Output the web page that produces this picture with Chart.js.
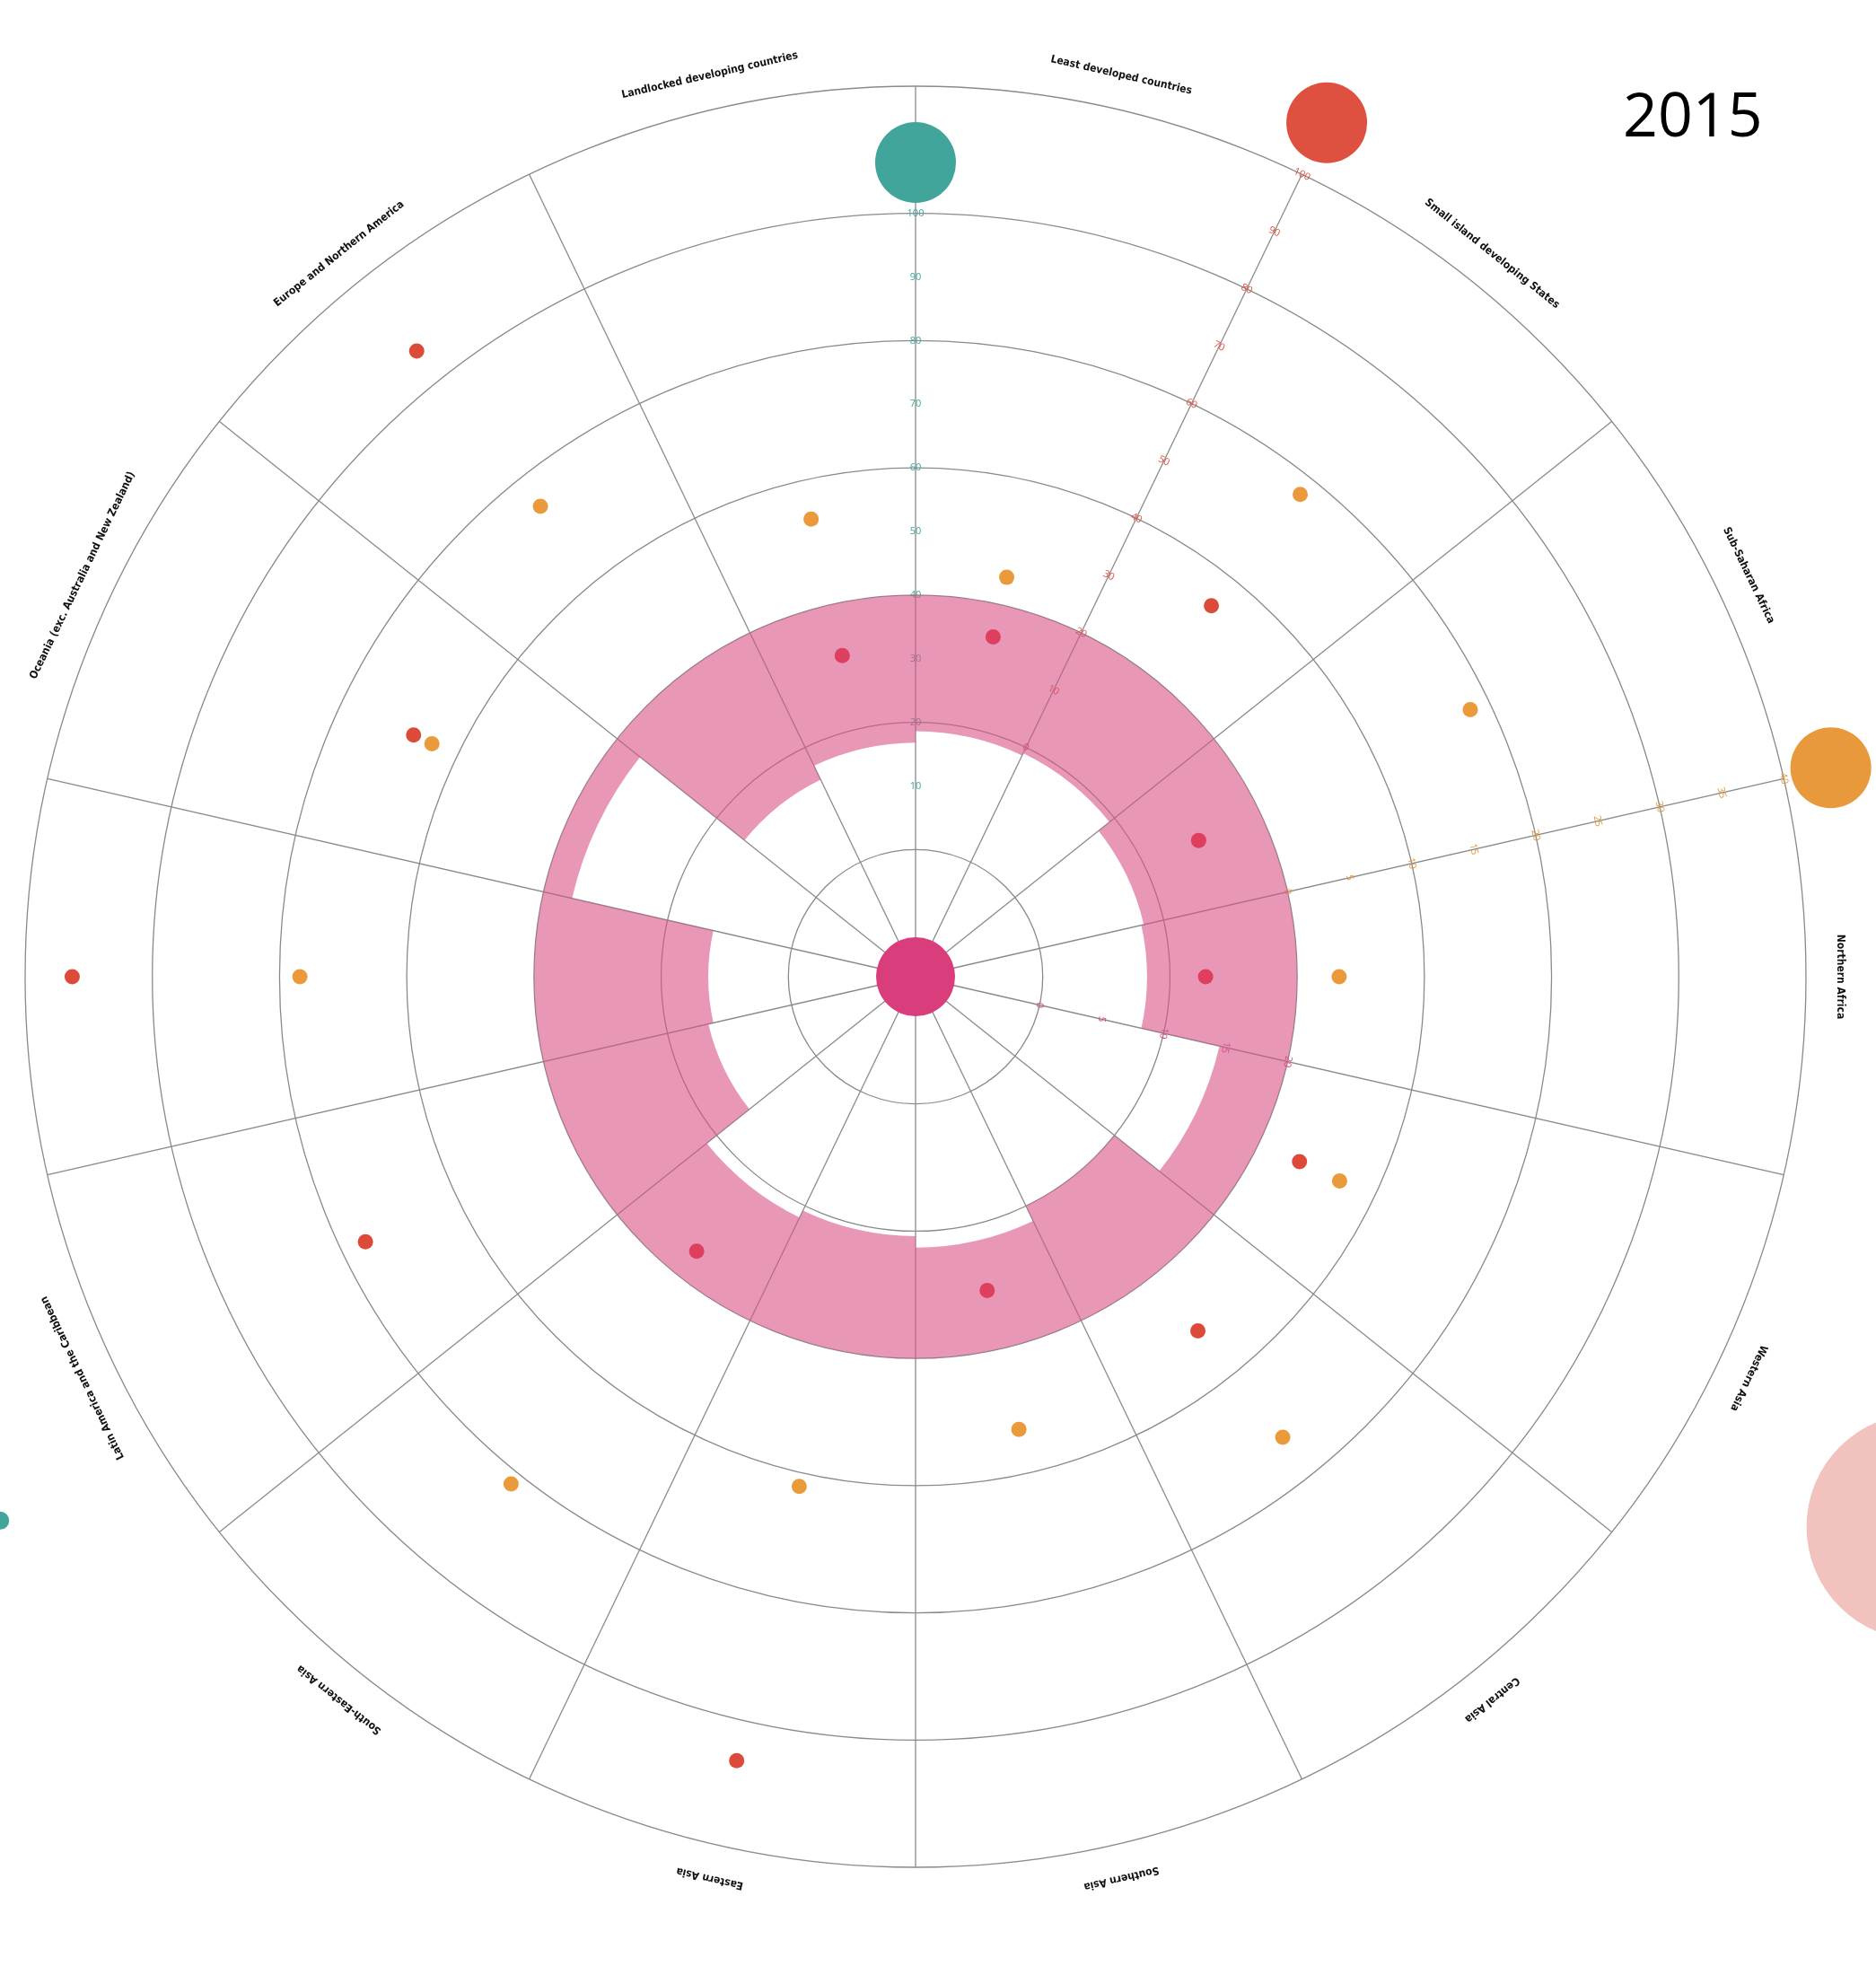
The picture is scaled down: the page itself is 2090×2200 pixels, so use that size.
<!DOCTYPE html>
<html lang="en">
<head>
    <meta charset="UTF-8">
    <title>2015</title>
    <script src="https://cdn.jsdelivr.net/npm/chart.js"></script>
    <style>
        html, body { margin: 0; padding: 0; background: #fff; }
        .chart-container { position: relative; width: 2090px; height: 2200px; }
    </style>
</head>
<body>
    <div class="chart-container">
        <canvas id="grafico"></canvas>
    </div>

    <script>
        // sectors, clockwise from the top spoke
        const regions = [
            'Least developed countries',
            'Small island developing States',
            'Sub-Saharan Africa',
            'Northern Africa',
            'Western Asia',
            'Central Asia',
            'Southern Asia',
            'Eastern Asia',
            'South-Eastern Asia',
            'Latin America and the Caribbean',
            'Australia and New Zealand',
            'Oceania (exc. Australia and New Zealand)',
            'Europe and Northern America',
            'Landlocked developing countries'
        ];

        // pink band (pink axis, 0-20)
        const bandTop    = [20, 20, 20, 20, 20, 20, 20, 20, 20, 20, 20, 20, 20, 20];
        const bandBottom = [9.3, 9.5, 8.4, 8.2, 14.5, 10.0, 11.3, 10.4, 11.0, 6.7, 6.3, 17.7, 7.2, 8.4];

        // dots
        const redValues    = [14.8, 34.6, 9.4, 5.6, 27.0, 31.2, 10.6, 86.4, 15.2, 56.0, 92.6, 47.6, 85.8, 11.8];
        const orangeValues = [2.2, 18.5, 18.4, 3.3, 7.0, 16.3, 6.5, 11.1, 21.0, null, 18.4, 12.2, 17.3, 6.9];

        // tick labels printed on each coloured axis
        const tealTicks   = [10, 20, 30, 40, 50, 60, 70, 80, 90, 100];
        const redTicks    = [0, 10, 20, 30, 40, 50, 60, 70, 80, 90, 100];
        const orangeTicks = [0, 5, 10, 15, 20, 25, 30, 35, 40];
        const pinkTicks   = [0, 5, 10, 15, 20];

        // big key dots at the end of each axis, and the hub
        const tealKey = [108];
        const redKey = [109];
        const orangeKey = [43.8];
        const hubValue = [-10];

        // bubbles drifting in from outside (in rings)
        const driftPink = [9.0];
        const driftTeal = [8.37];

        const yearLabel = '2015';

        const N = regions.length;
        const SLOTS = N * 2;          // spokes + sector centres
        const SECTOR = 360 / N;

        const labels = [];
        regions.forEach(name => labels.push('', name));

        // value k goes to the centre of sector k, on a scale turned by `turn` sectors
        function centreSlots(values, turn) {
            const out = new Array(SLOTS).fill(null);
            values.forEach((v, k) => { out[(2 * k + 1 - 2 * turn + SLOTS) % SLOTS] = v; });
            return out;
        }
        function oneSlot(values, slot) {
            const out = new Array(SLOTS).fill(null);
            out[slot] = values[0];
            return out;
        }
        function turnSectors(values, turn) {
            return values.map((_, j) => values[(j + turn) % N]);
        }

        // polar area with a floor: arcs go from `inner` to the value
        class BandController extends Chart.PolarAreaController {
            static id = 'band';
            static defaults = { ...Chart.PolarAreaController.defaults };
            updateElements(arcs, start, count, mode) {
                super.updateElements(arcs, start, count, mode);
                const scale = this._cachedMeta.rScale;
                const inner = this.getDataset().inner;
                for (let i = start; i < start + count; i++) {
                    arcs[i].innerRadius = scale.getDistanceFromCenterForValue(inner[i]);
                }
            }
        }
        Chart.register(BandController);

        function axisScale(startAngle, min, max, stepSize, shown, color) {
            return {
                type: 'radialLinear',
                axis: 'r',
                startAngle: startAngle,
                min: min,
                max: max,
                grid: { display: false, circular: true },
                angleLines: { display: false },
                pointLabels: { display: false },
                ticks: {
                    stepSize: stepSize,
                    showLabelBackdrop: false,
                    color: color,
                    font: { size: 11, family: 'Open Sans' },
                    callback: v => shown.includes(v) ? String(v) : ''
                }
            };
        }

        const gray = '#8a8a8a';

        const sectorLabels = {
            id: 'sectorLabels',
            afterDraw(chart) {
                const scale = chart.scales.r;
                const ctx = chart.ctx;
                ctx.save();
                ctx.fillStyle = '#111';
                ctx.font = 'bold 12px "Liberation Sans Narrow", "DejaVu Sans Condensed", sans-serif';
                ctx.textAlign = 'center';
                ctx.textBaseline = 'middle';
                regions.forEach((name, k) => {
                    const pos = scale.getPointPosition(2 * k + 1, scale.drawingArea + 38);
                    ctx.save();
                    ctx.translate(pos.x, pos.y);
                    ctx.rotate(scale.getIndexAngle(2 * k + 1));
                    ctx.fillText(name, 0, 0);
                    ctx.restore();
                });
                ctx.fillStyle = '#000';
                ctx.font = '68px "Open Sans"';
                ctx.textAlign = 'left';
                ctx.textBaseline = 'alphabetic';
                ctx.fillText(yearLabel, 1808, 152);
                ctx.restore();
            }
        };

        const ctx = document.getElementById('grafico').getContext('2d');

        const chart = new Chart(ctx, {
            type: 'radar',
            data: {
                labels: labels,
                datasets: [
                    {
                        label: 'hub',
                        rAxisID: 'rPink',
                        data: oneSlot(hubValue, 0),
                        showLine: false,
                        pointRadius: 44,
                        pointBorderWidth: 0,
                        pointBackgroundColor: '#D93D7B'
                    },
                    {
                        label: 'teal key',
                        rAxisID: 'r',
                        data: oneSlot(tealKey, 0),
                        showLine: false,
                        pointRadius: 45,
                        pointBorderWidth: 0,
                        pointBackgroundColor: '#42A59C'
                    },
                    {
                        label: 'red key',
                        rAxisID: 'rRed',
                        data: oneSlot(redKey, 0),
                        showLine: false,
                        pointRadius: 45,
                        pointBorderWidth: 0,
                        pointBackgroundColor: '#DE5040'
                    },
                    {
                        label: 'orange key',
                        rAxisID: 'rOrange',
                        data: oneSlot(orangeKey, 0),
                        showLine: false,
                        pointRadius: 45,
                        pointBorderWidth: 0,
                        pointBackgroundColor: '#E8993B'
                    },
                    {
                        label: 'red',
                        rAxisID: 'rRed',
                        data: centreSlots(redValues, 1),
                        showLine: false,
                        pointRadius: 8.5,
                        pointBorderWidth: 0,
                        // dots sitting inside the band read more crimson
                        pointBackgroundColor: c => (c.raw != null && c.raw < 20) ? '#DE3F5E' : '#DC4B39'
                    },
                    {
                        label: 'orange',
                        rAxisID: 'rOrange',
                        data: centreSlots(orangeValues, 3),
                        showLine: false,
                        pointRadius: 8.5,
                        pointBorderWidth: 0,
                        pointBackgroundColor: '#EA9A3B'
                    },
                    {
                        // transparent border widens the margin so the partly hidden bubbles still draw
                        label: 'drift pink',
                        rAxisID: 'rDriftA',
                        data: oneSlot(driftPink, 9),
                        showLine: false,
                        pointRadius: 126,
                        pointBorderWidth: 60,
                        pointBorderColor: 'transparent',
                        pointBackgroundColor: '#F1C2BE'
                    },
                    {
                        label: 'drift teal',
                        rAxisID: 'rDriftB',
                        data: oneSlot(driftTeal, 19),
                        showLine: false,
                        pointRadius: 10,
                        pointBorderWidth: 30,
                        pointBorderColor: 'transparent',
                        pointBackgroundColor: '#42A59C'
                    },
                    {
                        type: 'band',
                        label: 'band',
                        rAxisID: 'rPink',
                        data: turnSectors(bandTop, 4),
                        inner: turnSectors(bandBottom, 4),
                        backgroundColor: 'rgba(217, 82, 135, 0.6)',
                        borderWidth: 0
                    }
                ].map(ds => Object.assign({ clip: false }, ds))
            },
            options: {
                responsive: true,
                maintainAspectRatio: false,
                animation: false,
                events: [],
                layout: {
                    padding: { left: 20, top: 85, right: 70, bottom: 108 }
                },
                plugins: {
                    legend: { display: false },
                    tooltip: { enabled: false }
                },
                scales: {
                    r: {
                        type: 'radialLinear',
                        startAngle: 0,
                        min: -20,
                        max: 120,
                        grid: {
                            circular: true,
                            color: gray,
                            lineWidth: c => (c.tick && c.tick.value >= 0 && c.tick.value % 20 === 0) ? 1.3 : 0
                        },
                        angleLines: {
                            color: gray,
                            lineWidth: c => c.index % 2 === 0 ? 1.3 : 0
                        },
                        pointLabels: { display: false },
                        ticks: {
                            stepSize: 10,
                            showLabelBackdrop: false,
                            color: '#3FA69C',
                            font: { size: 11, family: 'Open Sans' },
                            callback: v => tealTicks.includes(v) ? String(v) : ''
                        }
                    },
                    rRed: axisScale(SECTOR, -40, 100, 10, redTicks, '#E0503F'),
                    rOrange: axisScale(SECTOR * 3, -30, 40, 5, orangeTicks, '#E8993A'),
                    rPink: axisScale(SECTOR * 4, -10, 60, 5, pinkTicks, '#D93D7C'),
                    rDriftA: axisScale(3, 0, 7, 1, [], 'transparent'),
                    rDriftB: axisScale(-5, 0, 7, 1, [], 'transparent')
                }
            },
            plugins: [sectorLabels]
        });
    </script>
</body>
</html>
